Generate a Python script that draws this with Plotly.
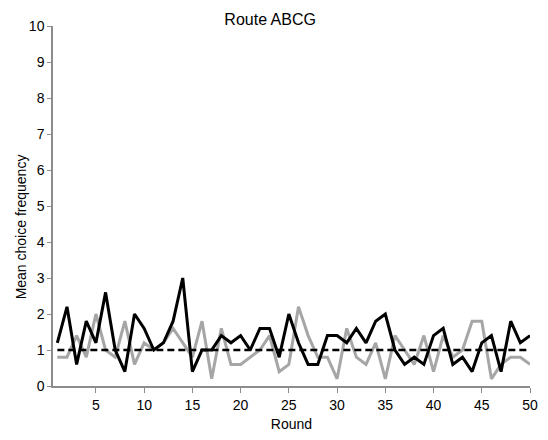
import plotly.graph_objects as go

# Rounds of the experiment
rounds = list(range(1, 51))

# Mean choice frequency per round, two groups
group_black = [
    1.2, 2.2, 0.6, 1.8, 1.2, 2.6, 1.0, 0.4, 2.0, 1.6,
    1.0, 1.2, 1.8, 3.0, 0.4, 1.0, 1.0, 1.4, 1.2, 1.4,
    1.0, 1.6, 1.6, 0.8, 2.0, 1.2, 0.6, 0.6, 1.4, 1.4,
    1.2, 1.6, 1.2, 1.8, 2.0, 1.0, 0.6, 0.8, 0.6, 1.4,
    1.6, 0.6, 0.8, 0.4, 1.2, 1.4, 0.4, 1.8, 1.2, 1.4,
]
group_grey = [
    0.8, 0.8, 1.4, 0.8, 2.0, 1.0, 0.8, 1.8, 0.6, 1.2,
    1.0, 1.2, 1.6, 1.2, 0.8, 1.8, 0.2, 1.6, 0.6, 0.6,
    0.8, 1.0, 1.4, 0.4, 0.6, 2.2, 1.4, 0.8, 0.8, 0.2,
    1.6, 0.8, 0.6, 1.2, 0.2, 1.4, 1.0, 0.6, 1.4, 0.4,
    1.4, 0.8, 1.0, 1.8, 1.8, 0.2, 0.6, 0.8, 0.8, 0.6,
]
# Expected frequency under random choice
expected = [1.0] * len(rounds)

x_ticks = [5, 10, 15, 20, 25, 30, 35, 40, 45, 50]
y_ticks = list(range(0, 11))

FONT = "Arial, 'Liberation Sans', sans-serif"
AXIS_GREY = "#8c8c8c"

fig = go.Figure()
fig.add_trace(go.Scatter(
    x=rounds, y=group_grey, mode="lines",
    line=dict(color="#a6a6a6", width=3), showlegend=False,
))
fig.add_trace(go.Scatter(
    x=rounds, y=group_black, mode="lines",
    line=dict(color="#000000", width=3), showlegend=False,
))
fig.add_trace(go.Scatter(
    x=rounds, y=expected, mode="lines",
    line=dict(color="#000000", width=2.5, dash="7px,4px"), showlegend=False,
))

fig.update_layout(
    width=548, height=440,
    margin=dict(l=53, r=10, t=25.5, b=51.5),
    paper_bgcolor="white", plot_bgcolor="white",
    font=dict(family=FONT, size=14, color="#000000"),
    title=dict(
        text="Route ABCG", font=dict(size=16, family=FONT, color="#000000"),
        xref="container", x=0.493, xanchor="center",
        yref="container", y=1 - 19 / 440, yanchor="middle",
    ),
    xaxis=dict(
        range=[0.55, 50], tickvals=x_ticks, ticktext=[str(v) for v in x_ticks],
        showline=True, linecolor=AXIS_GREY, linewidth=1.5,
        ticks="outside", tickcolor=AXIS_GREY, ticklen=5, tickwidth=1,
        showgrid=False, zeroline=False,
        tickfont=dict(size=14, family=FONT),
        title=dict(text="Round", font=dict(size=14, family=FONT), standoff=8),
    ),
    yaxis=dict(
        range=[0, 10], tickvals=y_ticks,
        showline=True, linecolor=AXIS_GREY, linewidth=1.5,
        ticks="outside", tickcolor=AXIS_GREY, ticklen=4, tickwidth=1,
        showgrid=False, zeroline=False,
        tickfont=dict(size=14, family=FONT),
    ),
    annotations=[dict(
        text="Mean choice frequency", textangle=-90,
        xref="paper", x=(20 - 53) / 485, xanchor="center",
        yref="paper", y=(388.5 - 228) / 363, yanchor="middle",
        showarrow=False, font=dict(size=14, family=FONT, color="#000000"),
    )],
)

fig.write_html("out.html")
